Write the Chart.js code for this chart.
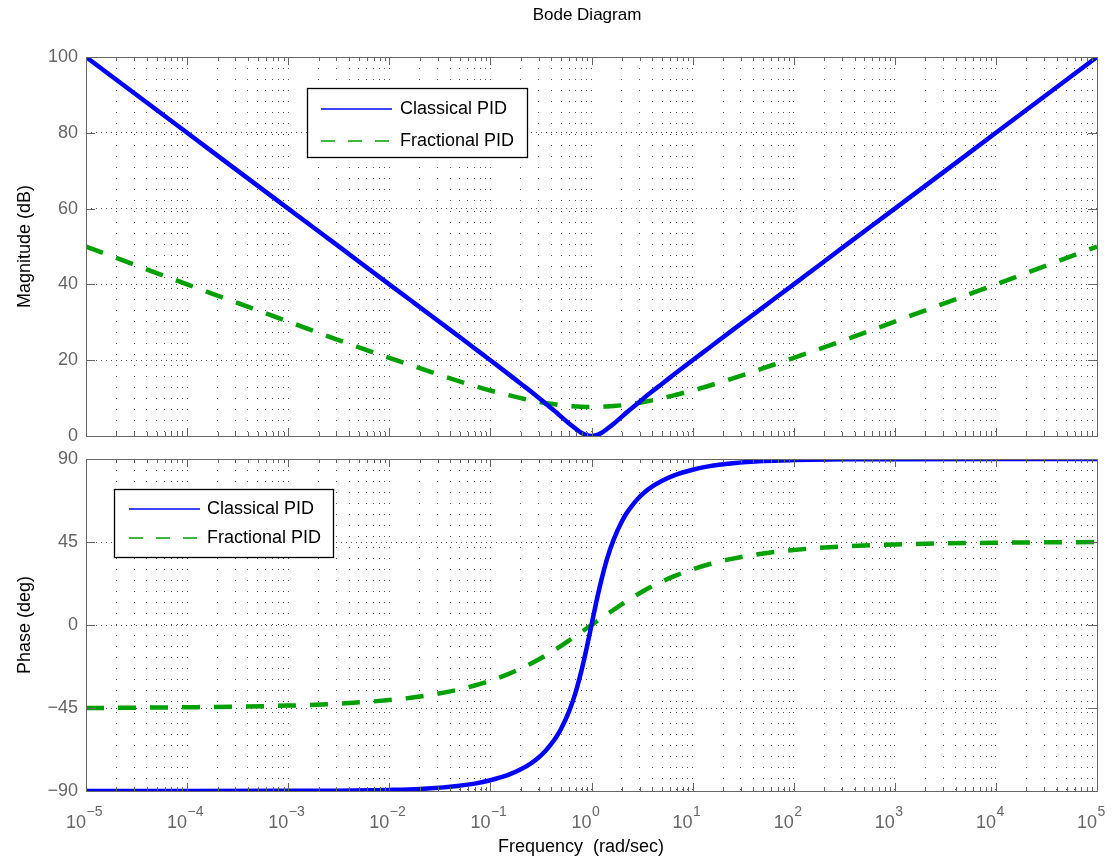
<!DOCTYPE html>
<html lang="en">
<head>
<meta charset="UTF-8">
<title>Bode Diagram</title>
<script src="https://cdn.jsdelivr.net/npm/chart.js@4"></script>
<style>
  body { margin: 0; background: #fff; }
  #wrap { position: relative; width: 1113px; height: 859px; }
  canvas { position: absolute; left: 0; }
</style>
</head>
<body>
<div id="wrap">
  <canvas id="magChart" width="1113" height="447" style="top:0"></canvas>
  <canvas id="phaseChart" width="1113" height="412" style="top:447px"></canvas>
</div>
<script>
// frequencies (rad/sec) the curves were read at
const freq = [1e-5, 1e-4, 1e-3, 3e-3, 0.01, 0.02, 0.04, 0.07, 0.1, 0.15, 0.2, 0.25, 0.3, 0.35, 0.4, 0.45, 0.5, 0.6, 0.7, 0.8, 0.9,
              1,
              1.11, 1.25, 1.43, 1.67, 2, 2.22, 2.5, 2.86, 3.33, 4, 5, 6.67, 10, 14.3, 25, 50, 100, 333, 1e3, 1e4, 1e5];

// magnitude (dB)
const classicalMag = [100, 80, 60, 50.5, 40, 34, 28, 23.1, 20, 16.4, 13.8, 11.8, 10.1, 8.6, 7.3, 6.2, 5.1, 3.3, 1.9, 0.8, 0.2,
                      0,
                      0.2, 0.8, 1.9, 3.3, 5.1, 6.2, 7.3, 8.6, 10.1, 11.8, 13.8, 16.4, 20, 23.1, 28, 34, 40, 50.5, 60, 80, 100];
const fractionalMag = [50, 40, 30.2, 25.5, 20.6, 17.9, 15.2, 13.2, 12, 10.8, 10, 9.4, 9, 8.7, 8.5, 8.3, 8.1, 7.9, 7.8, 7.7, 7.65,
                       7.65,
                       7.65, 7.7, 7.8, 7.9, 8.1, 8.3, 8.5, 8.7, 9, 9.4, 10, 10.8, 12, 13.2, 15.2, 17.9, 20.6, 25.5, 30.2, 40, 50];

// phase (deg)
const classicalPhase = [-90, -90, -89.9, -89.8, -89.4, -88.9, -87.7, -86, -84.2, -81.3, -78.2, -75.1, -71.8, -68.3, -64.5, -60.6, -56.3, -46.8, -36.1, -24.2, -11.9,
                        0,
                        11.9, 24.2, 36.1, 46.8, 56.3, 60.6, 64.5, 68.3, 71.8, 75.1, 78.2, 81.3, 84.2, 86, 87.7, 88.9, 89.4, 89.8, 89.9, 90, 90];
const fractionalPhase = [-45, -44.6, -43.7, -42.7, -40.7, -38.8, -36, -32.8, -30.2, -26.6, -23.6, -21, -18.7, -16.6, -14.7, -12.9, -11.3, -8.4, -5.9, -3.7, -1.75,
                         0,
                         1.75, 3.7, 5.9, 8.4, 11.3, 12.9, 14.7, 16.6, 18.7, 21, 23.6, 26.6, 30.2, 32.8, 36, 38.8, 40.7, 42.7, 43.7, 44.6, 45];

const seriesNames = ['Classical PID', 'Fractional PID'];
const decadeExponents = [-5, -4, -3, -2, -1, 0, 1, 2, 3, 4, 5];
const magTicks = [0, 20, 40, 60, 80, 100];
const phaseTicks = [-90, -45, 0, 45, 90];

Chart.defaults.font.family = '"Liberation Sans", Arial, sans-serif';

const BLUE = '#0000ff';
const GREEN = '#00a000';
const GREEN_DASH = [18, 14];

// grid values for the log axis: 1..9 in every decade
const xGrid = [];
decadeExponents.forEach(e => {
  if (e === 5) { xGrid.push(1e5); return; }
  for (let k = 1; k <= 9; k++) xGrid.push(k * Math.pow(10, e));
});

function points(ys) {
  return freq.map((f, i) => ({ x: f, y: ys[i] }));
}

function datasets(blueVals, greenVals) {
  return [
    { label: seriesNames[0], data: points(blueVals), borderColor: BLUE, borderWidth: 4.5,
      pointRadius: 0, cubicInterpolationMode: 'monotone' },
    { label: seriesNames[1], data: points(greenVals), borderColor: GREEN, borderWidth: 4.5,
      borderDash: GREEN_DASH, pointRadius: 0, cubicInterpolationMode: 'monotone' }
  ];
}

// frame, inside tick marks, legend box and the free texts
function decor(cfg) {
  return {
    id: 'decor',
    afterDatasetsDraw(chart) {
      const ctx = chart.ctx;
      const a = chart.chartArea;
      const xs = chart.scales.x, ys = chart.scales.y;
      ctx.save();

      ctx.strokeStyle = '#666';
      ctx.lineWidth = 1;
      ctx.beginPath();
      xGrid.forEach(v => {
        const px = Math.round(xs.getPixelForValue(v)) + 0.5;
        const len = Number.isInteger(Math.log10(v)) ? 8 : 4;
        ctx.moveTo(px, a.top); ctx.lineTo(px, a.top + len);
        ctx.moveTo(px, a.bottom); ctx.lineTo(px, a.bottom - len);
      });
      ys.ticks.forEach(t => {
        const py = Math.round(ys.getPixelForValue(t.value)) + 0.5;
        ctx.moveTo(a.left, py); ctx.lineTo(a.left + 9, py);
        ctx.moveTo(a.right, py); ctx.lineTo(a.right - 9, py);
      });
      ctx.stroke();
      ctx.strokeRect(Math.round(a.left) + 0.5, Math.round(a.top) + 0.5,
                     Math.round(a.right - a.left), Math.round(a.bottom - a.top));

      // legend
      const L = cfg.legend;
      ctx.fillStyle = '#fff';
      ctx.fillRect(L.x, L.y, L.w, L.h);
      ctx.strokeStyle = '#000';
      ctx.lineWidth = 1.3;
      ctx.strokeRect(L.x + 0.5, L.y + 0.5, L.w, L.h);
      ctx.font = '18px "Liberation Sans", Arial, sans-serif';
      ctx.textBaseline = 'middle';
      ctx.textAlign = 'left';
      chart.data.datasets.forEach((ds, i) => {
        const ry = L.rows[i];
        ctx.strokeStyle = ds.borderColor;
        ctx.lineWidth = 1.6;
        ctx.setLineDash(ds.borderDash ? [14, 13] : []);
        ctx.beginPath();
        ctx.moveTo(L.lineX0, ry); ctx.lineTo(L.lineX1, ry);
        ctx.stroke();
        ctx.setLineDash([]);
        ctx.fillStyle = '#000';
        ctx.fillText(ds.label, L.textX, ry);
      });

      // x tick labels 10^n
      if (cfg.xLabels) {
        ctx.fillStyle = '#666';
        ctx.textBaseline = 'alphabetic';
        decadeExponents.forEach(e => {
          const px = xs.getPixelForValue(Math.pow(10, e));
          ctx.font = '18px "Liberation Sans", Arial, sans-serif';
          ctx.textAlign = 'right';
          ctx.fillText('10', px, cfg.xLabels.base);
          ctx.font = '14px "Liberation Sans", Arial, sans-serif';
          ctx.textAlign = 'left';
          ctx.fillText(String(e).replace('-', '\u2212'), px + 0.5, cfg.xLabels.expBase);
        });
      }

      (cfg.texts || []).forEach(t => {
        ctx.fillStyle = '#000';
        ctx.font = t.font;
        ctx.textAlign = 'center';
        ctx.textBaseline = 'alphabetic';
        ctx.fillText(t.text, t.x, t.y);
      });
      ctx.restore();
    }
  };
}

function xAxis() {
  return {
    type: 'logarithmic',
    min: 1e-5,
    max: 1e5,
    afterBuildTicks: s => { s.ticks = xGrid.map(v => ({ value: v })); },
    afterFit: s => { s.height = 0; s.paddingLeft = 0; s.paddingRight = 0; },
    ticks: { display: false },
    grid: { color: '#555', drawTicks: false },
    border: { display: false, dash: [1, 10] }
  };
}

function yAxis(title, tickVals, min, max) {
  return {
    min: min,
    max: max,
    afterBuildTicks: s => { s.ticks = tickVals.map(v => ({ value: v })); },
    // fixed width, and let the layout padding alone decide the plot height
    afterFit: s => { s.width = 86; s.paddingTop = 0; s.paddingBottom = 0; },
    ticks: {
      color: '#666',
      padding: 8,
      font: { size: 18 },
      callback: v => String(v).replace('-', '\u2212')
    },
    grid: { color: '#555', drawTicks: false },
    border: { display: false, dash: [1, 4] },
    title: { display: true, text: title, color: '#000', font: { size: 18 }, padding: { top: 14, bottom: 0 } }
  };
}

new Chart(document.getElementById('magChart'), {
  type: 'line',
  data: { datasets: datasets(classicalMag, fractionalMag) },
  options: {
    responsive: false,
    animation: false,
    layout: { padding: { top: 57, right: 16, bottom: 11, left: 0 } },
    plugins: { legend: { display: false }, tooltip: { enabled: false } },
    scales: { x: xAxis(), y: yAxis('Magnitude (dB)', magTicks, 0, 100) }
  },
  plugins: [decor({
    legend: { x: 307, y: 88, w: 220, h: 69, rows: [109, 141], lineX0: 321, lineX1: 392, textX: 400 },
    texts: [{ text: 'Bode Diagram', x: 587, y: 20, font: '17px "Liberation Sans", Arial, sans-serif' }]
  })]
});

new Chart(document.getElementById('phaseChart'), {
  type: 'line',
  data: { datasets: datasets(classicalPhase, fractionalPhase) },
  options: {
    responsive: false,
    animation: false,
    layout: { padding: { top: 12, right: 16, bottom: 68, left: 0 } },
    plugins: { legend: { display: false }, tooltip: { enabled: false } },
    scales: { x: xAxis(), y: yAxis('Phase (deg)', phaseTicks, -90, 90) }
  },
  plugins: [decor({
    legend: { x: 114, y: 42, w: 219, h: 68, rows: [62, 91], lineX0: 129, lineX1: 200, textX: 207 },
    xLabels: { base: 381, expBase: 369 },
    texts: [{ text: 'Frequency  (rad/sec)', x: 581, y: 405, font: '18px "Liberation Sans", Arial, sans-serif' }]
  })]
});
</script>
</body>
</html>
